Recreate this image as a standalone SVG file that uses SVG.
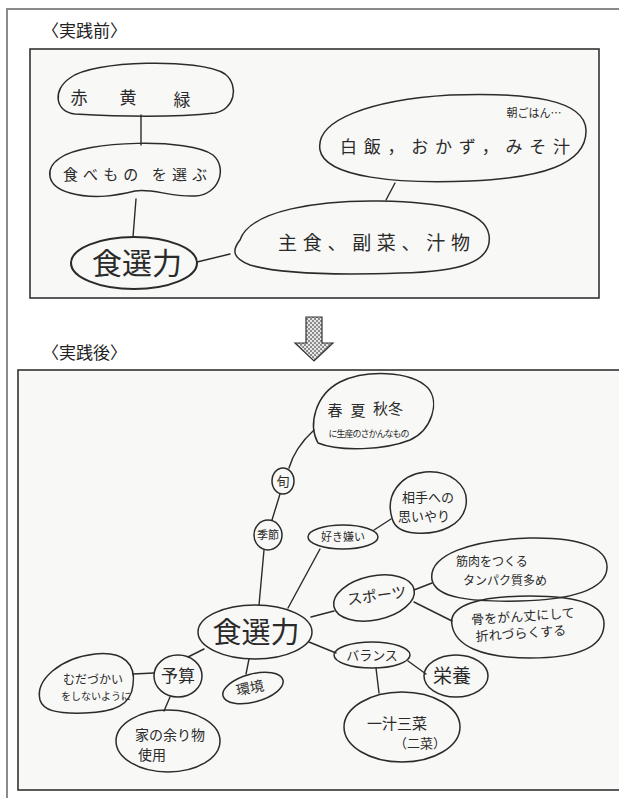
<svg xmlns="http://www.w3.org/2000/svg" width="619" height="798" viewBox="0 0 619 798">
<style>
.frame{fill:none;stroke:#8a8a8a;stroke-width:2}
.panel{fill:#f8f8f6;stroke:#333;stroke-width:1.6}
.blob{fill:none;stroke:#2b2b2b;stroke-width:1.5;stroke-linejoin:round}
.bold{stroke-width:2.1}
.con{fill:none;stroke:#2b2b2b;stroke-width:1.4;stroke-linecap:round}
.t{font-family:"Noto Sans CJK JP","Noto Sans",sans-serif;fill:#2a2a2a;text-anchor:middle}
.lab{font-family:"Noto Sans CJK JP","Noto Sans",sans-serif;fill:#222;font-size:17px}
</style>
<defs>
<pattern id="chk" width="4" height="4" patternUnits="userSpaceOnUse">
<rect width="4" height="4" fill="#e6e6e6"/>
<rect width="2" height="2" fill="#8c8c8c"/>
<rect x="2" y="2" width="2" height="2" fill="#8c8c8c"/>
</pattern>
</defs>
<rect width="619" height="798" fill="#fff"/>
<path class="frame" d="M7,798 V9 H619"/>
<text class="lab" x="42" y="37">〈実践前〉</text>
<rect class="panel" x="30" y="49" width="569" height="249"/>
<path d="M306,317 H322 V343 H333 L314,361 L295,343 H306 Z" fill="url(#chk)" stroke="#333" stroke-width="1.2"/>
<text class="lab" x="42" y="359">〈実践後〉</text>
<rect class="panel" x="18" y="370" width="620" height="420"/>

<g id="connectors">
<path class="con" d="M141,115 L141,145"/>
<path class="con" d="M136,199 L133,237"/>
<path class="con" d="M197,262 L230,254"/>
<path class="con" d="M395,183 L386,200"/>
<path class="con" d="M314,430 C302,441 293,454 289,468"/>
<path class="con" d="M280,494 L272,520"/>
<path class="con" d="M264,550 L259,605"/>
<path class="con" d="M320,549 L288,608"/>
<path class="con" d="M374,530 L391,519"/>
<path class="con" d="M311,617 L334,611"/>
<path class="con" d="M414,590 L432,583"/>
<path class="con" d="M414,602 L452,621"/>
<path class="con" d="M309,642 L336,653"/>
<path class="con" d="M408,661 L426,674"/>
<path class="con" d="M376,668 L379,693"/>
<path class="con" d="M204,649 L188,657"/>
<path class="con" d="M249,659 L246,674"/>
<path class="con" d="M154,673 L133,674"/>
<path class="con" d="M170,697 L164,711"/>
</g>

<g id="before-colors">
<path class="blob" d="M70,78 C92,60 200,58 225,74 C240,86 234,110 215,113 C170,118 110,116 75,114 C55,112 52,90 70,78 Z"/>
<text class="t" x="79" y="104" font-size="17">赤</text>
<text class="t" x="128" y="104" font-size="17">黄</text>
<text class="t" x="182" y="106" font-size="17">緑</text>
</g>
<g id="before-choose">
<path class="blob" d="M60,158 C85,140 190,138 213,155 C228,168 219,195 195,196 C170,197 152,188 135,191 C118,195 95,200 70,193 C45,186 45,168 60,158 Z"/>
<text class="t" x="135" y="180" font-size="15" textLength="144" lengthAdjust="spacing">食べもの を選ぶ</text>
</g>
<g id="before-center">
<ellipse class="blob bold" cx="134" cy="263" rx="63" ry="26"/>
<text class="t" x="137" y="274" font-size="30">食選力</text>
</g>
<g id="before-meal">
<path class="blob" d="M240,240 C250,210 320,200 380,201 C440,202 485,210 489,235 C493,262 460,272 400,273 C340,275 280,274 250,265 C232,258 232,250 240,240 Z"/>
<text class="t" x="374" y="250" font-size="19" textLength="192" lengthAdjust="spacing">主食、副菜、汁物</text>
</g>
<g id="before-breakfast">
<path class="blob" d="M320,150 C315,120 370,100 450,95 C530,92 585,100 586,130 C587,165 540,178 470,181 C400,184 325,178 320,150 Z"/>
<text class="t" x="534" y="117" font-size="11">朝ごはん…</text>
<text class="t" x="455" y="153" font-size="17" textLength="230" lengthAdjust="spacing">白飯，おかず，みそ汁</text>
</g>

<g id="after-seasonal">
<path class="blob" d="M318,443 C308,425 315,395 340,382 C365,370 410,370 428,388 C440,402 432,430 410,440 C385,450 340,452 318,443 Z"/>
<text class="t" x="335" y="416" font-size="15">春</text>
<text class="t" x="358" y="416" font-size="15">夏</text>
<text class="t" x="388" y="414" font-size="15">秋冬</text>
<text class="t" x="369" y="437" font-size="9" textLength="81" lengthAdjust="spacing">に生産のさかんなもの</text>
</g>
<g id="after-shun">
<ellipse class="blob" cx="283" cy="481" rx="11" ry="13"/>
<text class="t" x="283" y="486" font-size="13">旬</text>
</g>
<g id="after-season">
<ellipse class="blob" cx="268" cy="535" rx="14" ry="15"/>
<text class="t" x="268" y="539" font-size="11">季節</text>
</g>
<g id="after-likes">
<ellipse class="blob" cx="343" cy="537" rx="35" ry="12"/>
<text class="t" x="343" y="541" font-size="11">好き嫌い</text>
</g>
<g id="after-consideration">
<path class="blob" d="M392,518 C385,495 400,475 425,472 C450,470 469,485 466,505 C463,525 440,535 415,533 C400,532 394,526 392,518 Z"/>
<text class="t" x="428" y="502" font-size="13">相手への</text>
<text class="t" x="424" y="521" font-size="13">思いやり</text>
</g>
<g id="after-center">
<ellipse class="blob" cx="255" cy="632" rx="57" ry="27"/>
<text class="t" x="256" y="643" font-size="29">食選力</text>
</g>
<g id="after-sports">
<ellipse class="blob" cx="374" cy="598" rx="41" ry="22" transform="rotate(-12 374 598)"/>
<text class="t" x="377" y="601" font-size="15" transform="rotate(-8 377 597)">スポーツ</text>
</g>
<g id="after-muscle">
<path class="blob" d="M432,580 C428,555 470,540 530,538 C580,537 608,548 607,568 C606,590 570,600 520,601 C470,602 436,598 432,580 Z"/>
<text class="t" x="492" y="566" font-size="12">筋肉をつくる</text>
<text class="t" x="505" y="585" font-size="12">タンパク質多め</text>
</g>
<g id="after-bone">
<path class="blob" d="M452,625 C448,605 480,596 530,596 C580,596 605,605 604,625 C603,648 575,658 530,658 C480,658 455,645 452,625 Z"/>
<text class="t" x="523" y="621" font-size="13" transform="rotate(-4 523 617)">骨をがん丈にして</text>
<text class="t" x="521" y="638" font-size="13" transform="rotate(-4 521 634)">折れづらくする</text>
</g>
<g id="after-balance">
<ellipse class="blob" cx="372" cy="655" rx="38" ry="13"/>
<text class="t" x="372" y="660" font-size="13">バランス</text>
</g>
<g id="after-nutrition">
<ellipse class="blob" cx="456" cy="676" rx="32" ry="21"/>
<text class="t" x="452" y="683" font-size="19">栄養</text>
</g>
<g id="after-ichiju">
<ellipse class="blob" cx="402" cy="727" rx="58" ry="35"/>
<text class="t" x="397" y="729" font-size="15">一汁三菜</text>
<text class="t" x="420" y="748" font-size="13">（二菜）</text>
</g>
<g id="after-budget">
<ellipse class="blob" cx="178" cy="676" rx="24" ry="21"/>
<text class="t" x="178" y="682" font-size="17">予算</text>
</g>
<g id="after-environment">
<ellipse class="blob" cx="253" cy="688" rx="31" ry="14" transform="rotate(-15 253 688)"/>
<text class="t" x="250" y="693" font-size="14" transform="rotate(-12 250 688)">環境</text>
</g>
<g id="after-waste">
<path class="blob" d="M40,700 C35,680 60,658 95,654 C125,651 136,665 133,685 C131,705 115,712 85,713 C55,714 43,710 40,700 Z"/>
<text class="t" x="93" y="684" font-size="12">むだづかい</text>
<text class="t" x="96" y="700" font-size="10">をしないように</text>
</g>
<g id="after-leftovers">
<ellipse class="blob" cx="168" cy="741" rx="52" ry="31"/>
<text class="t" x="170" y="740" font-size="14">家の余り物</text>
<text class="t" x="152" y="760" font-size="14">使用</text>
</g>
</svg>
